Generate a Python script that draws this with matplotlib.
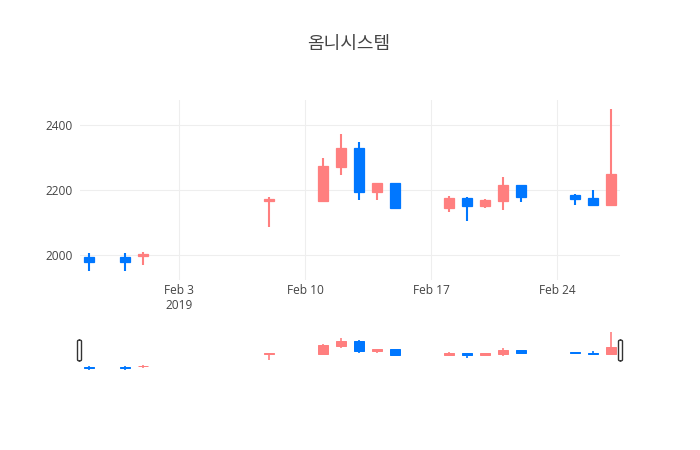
import matplotlib
matplotlib.use("Agg")
import matplotlib.pyplot as plt
import matplotlib.dates as mdates
from matplotlib.patches import FancyBboxPatch
import numpy as np
import pandas as pd

plt.rcParams['font.family'] = ['Open Sans', 'Noto Sans CJK KR', 'DejaVu Sans']

title = "옴니시스템"
dates = pd.to_datetime([
    "2019-01-29", "2019-01-31", "2019-02-01", "2019-02-08", "2019-02-11",
    "2019-02-12", "2019-02-13", "2019-02-14", "2019-02-15", "2019-02-18",
    "2019-02-19", "2019-02-20", "2019-02-21", "2019-02-22", "2019-02-25",
    "2019-02-26", "2019-02-27",
])
opens = [1995, 1995, 1998, 2165, 2165, 2270, 2330, 2195, 2220, 2145,
         2175, 2150, 2165, 2215, 2185, 2175, 2155]
highs = [2005, 2005, 2010, 2178, 2297, 2372, 2347, 2220, 2220, 2182,
         2177, 2172, 2239, 2215, 2188, 2200, 2450]
lows = [1950, 1950, 1970, 2085, 2165, 2245, 2170, 2170, 2145, 2133,
        2104, 2144, 2140, 2163, 2155, 2155, 2155]
closes = [1980, 1980, 2004, 2172, 2275, 2330, 2195, 2220, 2145, 2175,
          2150, 2170, 2215, 2180, 2172, 2155, 2250]
y_ticks = [2000, 2200, 2400]
x_ticks = pd.to_datetime(["2019-02-03", "2019-02-10", "2019-02-17", "2019-02-24"])
x_labels = ["Feb 3\n2019", "Feb 10", "Feb 17", "Feb 24"]

up_color = "#ff7f7f"
down_color = "#0077ff"
text_color = "#444444"

W, H = 700, 450
fig = plt.figure(figsize=(7, 4.5), dpi=100)

def px_axes(left, top, right, bottom):
    return fig.add_axes([left / W, 1 - bottom / H, (right - left) / W, (bottom - top) / H])

ax = px_axes(80, 100, 620, 280)
slider = px_axes(80, 330, 620, 372)

xnum = mdates.date2num(dates)
xmin = mdates.date2num(dates.min()) - 0.5
xmax = mdates.date2num(dates.max()) + 0.5
pad = (max(highs) - min(lows)) * 0.053
ymin, ymax = min(lows) - pad, max(highs) + pad


def draw_candles(a, lw):
    for x, o, h, l, c in zip(xnum, opens, highs, lows, closes):
        col = up_color if c >= o else down_color
        a.plot([x, x], [l, h], color=col, lw=lw, solid_capstyle='butt', zorder=2)
        a.bar(x, abs(c - o), bottom=min(o, c), width=0.6, color=col,
              edgecolor=col, linewidth=lw * 0.6, zorder=3)


draw_candles(ax, 1.5)
ax.set_xlim(xmin, xmax)
ax.set_ylim(ymin, ymax)
ax.set_yticks(y_ticks)
ax.set_xticks(mdates.date2num(x_ticks))
ax.set_xticklabels(x_labels)
ax.grid(True, color="#eeeeee", linewidth=0.8)
ax.set_axisbelow(True)
for s in ax.spines.values():
    s.set_visible(False)
ax.tick_params(length=0, labelsize=8.6, colors=text_color)
ax.tick_params(axis='x', pad=3)
ax.tick_params(axis='y', pad=5)
for lab in ax.get_xticklabels():
    lab.set_linespacing(1.2)
    lab.set_verticalalignment('top')

draw_candles(slider, 1.2)
slider.set_xlim(xmin, xmax)
slider.set_ylim(ymin, ymax)
slider.set_xticks([])
slider.set_yticks([])
for s in slider.spines.values():
    s.set_visible(False)

for hx in (79.5, 620.5):
    fig.patches.append(FancyBboxPatch(
        ((hx - 2) / W, 1 - 361 / H), 4 / W, 21 / H,
        boxstyle="round,pad=0,rounding_size=0.003",
        transform=fig.transFigure, facecolor="white",
        edgecolor="#333333", linewidth=1, zorder=5))

fig.text(349 / W, 1 - 44 / H, title, ha='center', va='center',
         fontsize=13, color=text_color,
         family=['Noto Sans CJK KR', 'DejaVu Sans'])

fig.savefig("out.png", dpi=100)
